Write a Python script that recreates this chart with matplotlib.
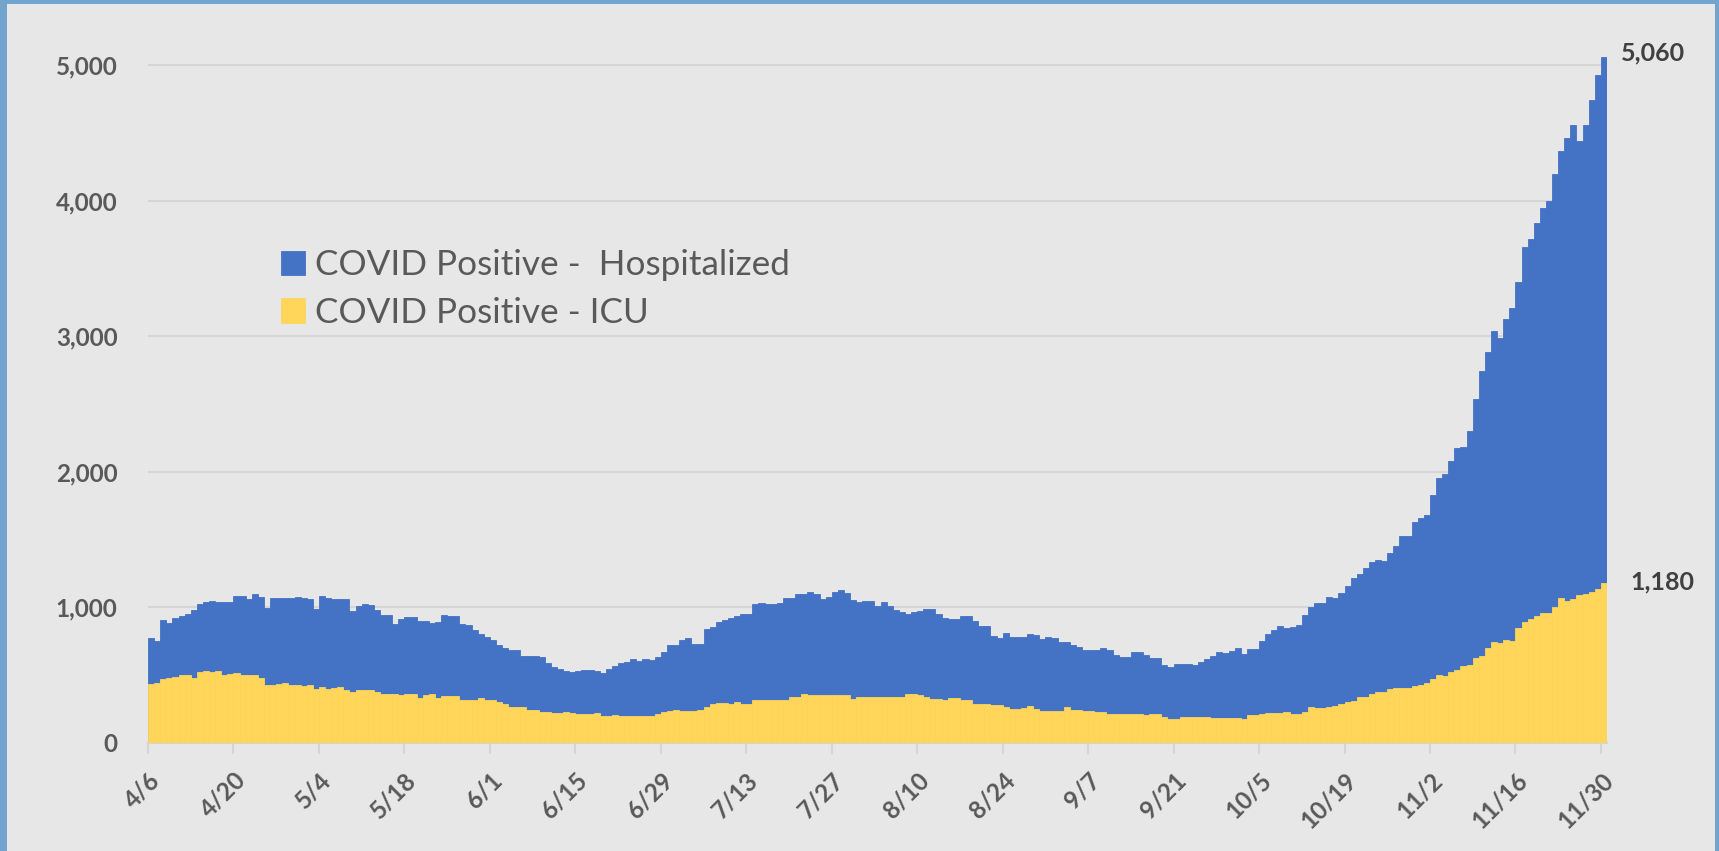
import matplotlib
matplotlib.use("Agg")
import matplotlib.pyplot as plt
from matplotlib.patches import Rectangle
import pandas as pd

# ---------------- data ----------------
dates = pd.date_range("2020-04-06", "2020-11-30", freq="D")
day_labels = [f"{d.month}/{d.day}" for d in dates]

hospitalized = [
    775, 750, 909, 884, 923, 933, 953, 978, 1027, 1042,
    1049, 1037, 1042, 1042, 1084, 1084, 1059, 1101, 1077, 998,
    1067, 1067, 1067, 1067, 1074, 1067, 1059, 988, 1084, 1072,
    1062, 1059, 1059, 975, 1007, 1022, 1017, 980, 943, 943,
    881, 911, 926, 926, 901, 901, 886, 894, 943, 936,
    936, 881, 869, 830, 807, 778, 758, 721, 704, 686,
    686, 644, 640, 644, 635, 590, 558, 543, 528, 523,
    533, 538, 538, 531, 514, 548, 565, 593, 598, 617,
    605, 617, 612, 635, 672, 721, 721, 758, 775, 733,
    733, 840, 857, 889, 906, 923, 933, 951, 951, 1022,
    1030, 1025, 1025, 1032, 1067, 1067, 1101, 1101, 1111, 1096,
    1062, 1077, 1111, 1126, 1104, 1052, 1040, 1049, 1049, 1007,
    1042, 1012, 983, 963, 948, 968, 975, 988, 988, 951,
    923, 911, 911, 936, 936, 899, 862, 862, 790, 775,
    810, 785, 778, 778, 802, 795, 770, 785, 775, 748,
    748, 723, 711, 689, 689, 689, 699, 686, 649, 632,
    637, 669, 669, 652, 627, 627, 576, 561, 583, 583,
    583, 576, 595, 620, 640, 672, 664, 681, 699, 659,
    694, 694, 753, 807, 836, 861, 851, 856, 871, 945,
    1004, 1033, 1033, 1075, 1068, 1105, 1156, 1215, 1245, 1289,
    1338, 1348, 1343, 1401, 1456, 1524, 1524, 1627, 1662, 1682,
    1826, 1953, 1981, 2077, 2177, 2183, 2300, 2534, 2746, 2880,
    3035, 2987, 3124, 3206, 3399, 3656, 3714, 3838, 3944, 3996,
    4199, 4367, 4463, 4559, 4436, 4559, 4744, 4926, 5060,
]

icu = [
    432, 444, 469, 479, 486, 499, 504, 479, 523, 528,
    523, 528, 504, 511, 518, 504, 504, 499, 479, 425,
    430, 435, 440, 425, 430, 420, 430, 400, 415, 400,
    405, 412, 388, 375, 388, 388, 388, 375, 363, 363,
    363, 356, 360, 360, 331, 351, 360, 331, 343, 343,
    343, 319, 319, 319, 331, 314, 314, 301, 284, 264,
    264, 264, 247, 247, 227, 227, 222, 222, 227, 220,
    215, 215, 215, 220, 202, 198, 210, 202, 202, 202,
    202, 202, 202, 212, 227, 237, 242, 237, 237, 237,
    247, 264, 291, 296, 296, 286, 299, 291, 291, 316,
    316, 314, 314, 319, 319, 341, 341, 358, 351, 351,
    351, 351, 351, 351, 351, 326, 336, 336, 341, 341,
    341, 341, 341, 336, 360, 360, 351, 336, 321, 326,
    316, 331, 331, 316, 316, 291, 291, 286, 277, 277,
    269, 252, 252, 257, 272, 252, 237, 237, 237, 237,
    262, 247, 247, 237, 237, 227, 227, 217, 217, 212,
    212, 217, 217, 209, 214, 214, 189, 180, 180, 189,
    189, 189, 189, 194, 187, 187, 182, 187, 187, 180,
    207, 207, 212, 221, 221, 221, 231, 216, 216, 231,
    266, 258, 258, 268, 276, 285, 305, 310, 337, 337,
    362, 374, 374, 398, 409, 409, 409, 419, 429, 443,
    470, 501, 494, 525, 539, 566, 577, 628, 645, 704,
    748, 735, 759, 752, 848, 889, 913, 934, 961, 961,
    1002, 1071, 1044, 1064, 1092, 1099, 1112, 1133, 1180,
]

series_labels = ["COVID Positive -  Hospitalized", "COVID Positive - ICU"]
y_ticks = [0, 1000, 2000, 3000, 4000, 5000]
tick_step = 14

assert len(hospitalized) == len(dates) == len(icu)

# ---------------- style ----------------
BLUE = "#4472C4"
GOLD = "#FFD55A"
BG = "#E7E7E7"
GRID = "#D5D5D5"
TXT = "#595959"
BORDER = "#72A4CE"
FONT = ["Lato", "DejaVu Sans"]
plt.rcParams["font.family"] = FONT

W, H = 1719, 851
fig = plt.figure(figsize=(W / 100, H / 100), dpi=100, facecolor=BG)
ax = fig.add_axes([148 / W, (H - 743) / H, (1607 - 148) / W, (743 - 8) / H])
ax.set_facecolor(BG)

x = list(range(len(dates)))
ax.bar(x, hospitalized, width=1.0, align="edge", color=BLUE, edgecolor=BLUE,
       linewidth=0.6, label=series_labels[0], zorder=2)
ax.bar(x, icu, width=1.0, align="edge", color=GOLD, edgecolor=GOLD,
       linewidth=0.6, label=series_labels[1], zorder=3)

ax.set_xlim(0, len(dates))
ax.set_ylim(0, 5420)

ax.set_yticks(y_ticks)
ax.set_yticklabels([f"{v:,}" for v in y_ticks])
ax.yaxis.grid(True, color=GRID, linewidth=1.5)
ax.set_axisbelow(True)

for s in ["top", "right", "left"]:
    ax.spines[s].set_visible(False)
ax.spines["bottom"].set_color(GRID)
ax.spines["bottom"].set_linewidth(1.5)

ticks = list(range(0, len(dates), tick_step))
ax.set_xticks(ticks)
ax.set_xticklabels([day_labels[i] for i in ticks], rotation=45, ha="right",
                   rotation_mode="anchor")
ax.tick_params(axis="x", length=8, width=1.5, color=GRID, pad=10,
               labelsize=17.5, labelcolor=TXT)
ax.tick_params(axis="y", length=0, pad=22, labelsize=17.5, labelcolor=TXT)
for lab in ax.get_xticklabels() + ax.get_yticklabels():
    lab.set_fontweight("bold")

# end-value labels
ax.annotate(f"{hospitalized[-1]:,}", xy=(len(dates), hospitalized[-1]),
            xytext=(10, 3), textcoords="offset points", ha="left", va="center",
            fontsize=18, fontweight="bold", color="#404040")
ax.annotate(f"{icu[-1]:,}", xy=(len(dates), icu[-1]),
            xytext=(17, 1), textcoords="offset points", ha="left", va="center",
            fontsize=18, fontweight="bold", color="#404040")

leg = ax.legend(loc="upper left", bbox_to_anchor=(281 / W, 1 - 249 / H),
                bbox_transform=fig.transFigure, frameon=False, fontsize=25.3,
                handlelength=0.68, handleheight=0.68, handletextpad=0.28,
                labelspacing=0.45, borderpad=0, borderaxespad=0)
for t in leg.get_texts():
    t.set_color(TXT)

# blue frame (left, top, right)
for (x0, y0, w, h) in [(0, 0, 7 / W, 1), (0, 1 - 4 / H, 1, 4 / H), (1 - 4 / W, 0, 4 / W, 1)]:
    fig.patches.append(Rectangle((x0, y0), w, h, transform=fig.transFigure,
                                 facecolor=BORDER, edgecolor="none", zorder=10))

fig.savefig("out.png", dpi=100, facecolor=BG)
